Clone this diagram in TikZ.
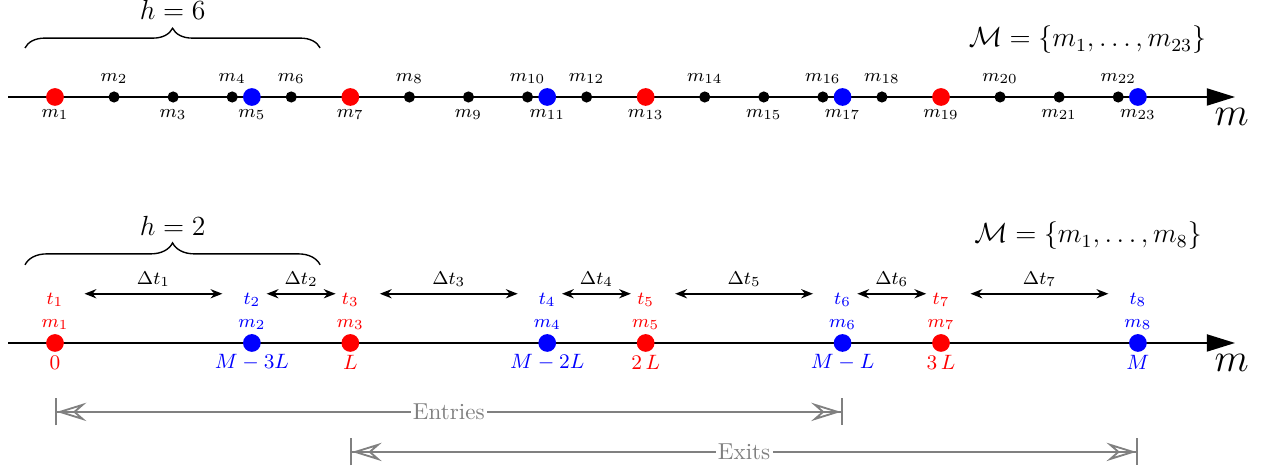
\documentclass[tikz,border=0pt]{standalone}
\usetikzlibrary{arrows.meta,calc,decorations.pathreplacing}
\begin{document}
\begin{tikzpicture}[
  dot/.style={circle,fill=#1,inner sep=0pt,minimum size=0.27cm},
  smalldot/.style={circle,fill=black,inner sep=0pt,minimum size=0.17cm},
  lab/.style={font=\footnotesize,inner sep=1pt},
  vlab/.style={font=\small,inner sep=1pt},
  axis/.style={thick,-{Triangle[length=4.3mm,width=2.6mm]}},
  dtarrow/.style={thick,{Stealth[length=1.8mm,width=1.4mm]}-{Stealth[length=1.8mm,width=1.4mm]}},
  brace/.style={semithick,decorate,decoration={brace,amplitude=#1}},
  span/.style={thick,gray,{Bar[width=4.1mm]Stealth[open,length=4.5mm,width=2.8mm,inset=1.6mm]}-{Stealth[open,length=4.5mm,width=2.8mm,inset=1.6mm]Bar[width=4.1mm]}},
  spanlab/.style={text=gray,fill=white,inner sep=1pt}]
  \useasboundingbox (-0.838,-1.920) rectangle (18.452,5.226);

  % top line: h = 6
  \coordinate (topStart) at (-0.716,3.748);
  \coordinate (topEnd) at (17.98,3.748);
  \draw[axis] (topStart) -- (topEnd);
  \node[font=\LARGE] (topm) at ($(topEnd)+(-0.05,-0.3)$) {$m$};
  \foreach \x/\i/\off in {0.9/2/0.28, 1.8/3/-0.27, 2.7/4/0.28, 3.6/6/0.28, 5.4/8/0.28,
      6.3/9/-0.27, 7.2/10/0.28, 8.1/12/0.28, 9.9/14/0.28, 10.8/15/-0.27, 11.7/16/0.28,
      12.6/18/0.28, 14.4/20/0.28, 15.3/21/-0.27, 16.2/22/0.28} {
    \node[smalldot] (p\i) at (\x,3.748) {};
    \node[lab] (l\i) at ($(p\i)+(0,\off)$) {$m_{\i}$};
  }
  \foreach \x/\c/\i in {0/red/1, 3.0/blue/5, 4.5/red/7, 7.5/blue/11, 9.0/red/13,
      12.0/blue/17, 13.5/red/19, 16.5/blue/23} {
    \node[dot=\c] (p\i) at (\x,3.748) {};
    \node[lab] (l\i) at ($(p\i)+(0,-0.27)$) {$m_{\i}$};
  }
  \coordinate (topBrA) at (-0.457,4.495);
  \coordinate (topBrB) at (4.04,4.495);
  \draw[brace=0.30cm] (topBrA) -- (topBrB);
  \node[font=\large] (h6) at ($(topBrA)!0.5!(topBrB)+(0,0.585)$) {$h=6$};
  \node[font=\large] (set23) at (15.73,4.617) {$\mathcal{M}=\{m_1,\ldots,m_{23}\}$};

  % bottom line: h = 2
  \coordinate (botStart) at (-0.716,0);
  \coordinate (botEnd) at (17.98,0);
  \draw[axis] (botStart) -- (botEnd);
  \node[font=\LARGE] (botm) at ($(botEnd)+(-0.05,-0.3)$) {$m$};
  \foreach \x/\c/\i/\v in {0/red/1/0, 3.0/blue/2/M-3L, 4.5/red/3/L, 7.5/blue/4/M-2L,
      9.0/red/5/2\,L, 12.0/blue/6/M-L, 13.5/red/7/3\,L, 16.5/blue/8/M} {
    \node[dot=\c] (b\i) at (\x,0) {};
    \node[lab,text=\c] (bm\i) at ($(b\i)+(0,0.28)$) {$m_{\i}$};
    \node[lab,text=\c] (t\i) at ($(b\i)+(0,0.66)$) {$t_{\i}$};
    \node[vlab,text=\c] (v\i) at ($(b\i)+(0,-0.30)$) {$\v$};
  }
  \foreach \i [evaluate=\i as \j using int(\i+1)] in {1,...,7}
    \draw[dtarrow] ($(t\i)!0.15!(t\j)+(0,0.09)$) --
      node[lab,above=1.7pt] (dt\i) {$\Delta t_{\i}$} ($(t\i)!0.85!(t\j)+(0,0.09)$);
  \coordinate (botBrA) at (-0.457,1.19);
  \coordinate (botBrB) at (4.04,1.19);
  \draw[brace=0.335cm] (botBrA) -- (botBrB);
  \node[font=\large] (h2) at ($(botBrA)!0.5!(botBrB)+(0,0.60)$) {$h=2$};
  \node[font=\large] (set8) at (15.74,1.63) {$\mathcal{M}=\{m_1,\ldots,m_8\}$};

  % entries and exits
  \coordinate (enL) at ($(b1)+(0,-1.05)$);
  \coordinate (enR) at ($(b6)+(0,-1.05)$);
  \draw[span] (enL) -- node[spanlab] (entries) {Entries} (enR);
  \coordinate (exL) at ($(b3)+(0,-1.66)$);
  \coordinate (exR) at ($(b8)+(0,-1.66)$);
  \draw[span] (exL) -- node[spanlab] (exits) {Exits} (exR);
\end{tikzpicture}
\end{document}
